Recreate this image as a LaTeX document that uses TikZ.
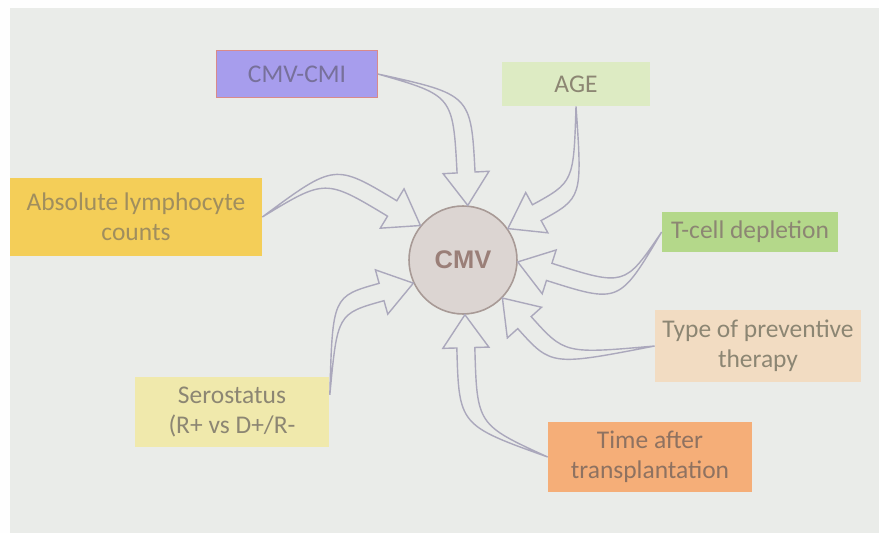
\documentclass[tikz,border=0pt]{standalone}
\usepackage{fontspec}
\setmainfont{Carlito}
\newfontfamily\headfont{Liberation Sans}
\usepackage{tikz}
\usetikzlibrary{calc}
\definecolor{slide}{HTML}{EAECE9}
\definecolor{arrowline}{HTML}{ABA8BC}
\definecolor{cmvfill}{HTML}{DCD5D2}
\definecolor{cmvedge}{HTML}{A89A96}
\definecolor{cmvtext}{HTML}{9A7F78}
\definecolor{cmifill}{HTML}{A79DED}
\definecolor{cmiedge}{HTML}{D98A8A}
\definecolor{cmitext}{HTML}{77709A}
\definecolor{agefill}{HTML}{DDEBC3}
\definecolor{alcfill}{HTML}{F4CE58}
\definecolor{alctext}{HTML}{A08E5E}
\definecolor{tcellfill}{HTML}{B4D88A}
\definecolor{typefill}{HTML}{F2DCC2}
\definecolor{timefill}{HTML}{F5AE78}
\definecolor{timetext}{HTML}{8E7261}
\definecolor{serofill}{HTML}{F0E9AC}
\definecolor{graytext}{HTML}{8C8673}
\tikzset{
  factor/.style={rectangle,inner sep=0pt,align=center,text=graytext,
    font=\fontsize{14.5}{17}\selectfont},
  bentarr/.style={draw=arrowline,line width=0.8pt,line join=miter},
}
\def\arrhl{0.66cm}
\def\arrhw{0.46cm}
\def\arrbw{0.18cm}
% tail, bend, tip
\newcommand\bentarrow[3]{%
  \coordinate (hb) at ($(#3)!\arrhl!(#2)$);
  \draw[bentarr] (#1) .. controls ($(#2)!\arrbw!90:(#3)$) .. ($(hb)!\arrbw!90:(#3)$)
    -- ($(hb)!\arrhw!90:(#3)$) -- (#3) -- ($(hb)!\arrhw!-90:(#3)$)
    -- ($(hb)!\arrbw!-90:(#3)$) .. controls ($(#2)!\arrbw!-90:(#3)$) .. (#1) -- cycle;
}
\begin{document}
\begin{tikzpicture}[x=0.02cm,y=-0.02cm]
  \useasboundingbox (0,0) rectangle (879,533);
  \fill[white!96!slide] (0,0) rectangle (879,533);
  \fill[slide] (10,8) rectangle (879,533);

  \node[circle,fill=cmvfill,draw=cmvedge,line width=0.9pt,minimum size=2.16cm,inner sep=0pt,
    font=\headfont\bfseries\fontsize{14.5}{17}\selectfont,text=cmvtext] (cmv) at (463,260) {CMV};

  \node[factor,fill=cmifill,draw=cmiedge,text=cmitext,minimum width=3.22cm,minimum height=0.94cm] (cmvcmi) at (297,74) {CMV-CMI};
  \node[factor,fill=agefill,minimum width=2.98cm,minimum height=0.88cm] (age) at (576,84) {AGE};
  \node[factor,fill=alcfill,text=alctext,minimum width=5.04cm,minimum height=1.56cm] (alc) at (136,217) {Absolute lymphocyte\\counts};
  \node[factor,fill=tcellfill,minimum width=3.52cm,minimum height=0.82cm] (tcell) at (750,232) {T-cell depletion};
  \node[factor,fill=typefill,minimum width=4.12cm,minimum height=1.44cm] (type) at (758,346) {Type of preventive\\therapy};
  \node[factor,fill=timefill,text=timetext,minimum width=4.08cm,minimum height=1.40cm] (time) at (650,457) {Time after\\transplantation};
  \node[factor,fill=serofill,minimum width=3.90cm,minimum height=1.40cm] (sero) at (232,412) {Serostatus\\(R+ vs D+/R-};

  % bend points of the curved arrows
  \coordinate (kcmi) at (462,95);
  \coordinate (kage) at (578,190);
  \coordinate (ktcell) at (622,295);
  \coordinate (ktype) at (558,360);
  \coordinate (ktime) at (468,425);
  \coordinate (ksero) at (335,305);
  \coordinate (kalc) at (330,171);

  \bentarrow{cmvcmi.east}{kcmi}{cmv.85}
  \bentarrow{age.south}{kage}{cmv.35}
  \bentarrow{tcell.west}{ktcell}{cmv.-2}
  \bentarrow{type.west}{ktype}{cmv.-44}
  \bentarrow{time.west}{ktime}{cmv.-88}
  \bentarrow{sero.10}{ksero}{cmv.205}
  \bentarrow{alc.east}{kalc}{cmv.141}
\end{tikzpicture}
\end{document}
